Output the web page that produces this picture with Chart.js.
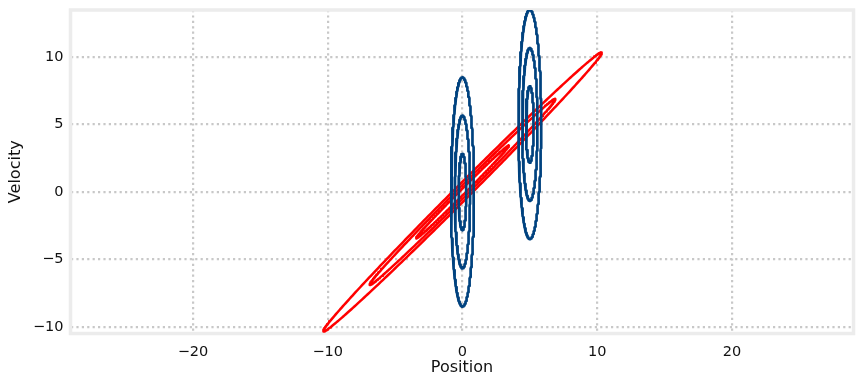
<!DOCTYPE html>
<html>
<head>
<meta charset="utf-8">
<script src="https://cdn.jsdelivr.net/npm/chart.js@4.4.0/dist/chart.umd.min.js"></script>
<style>
  html, body { margin: 0; padding: 0; background: #fff; }
</style>
</head>
<body>
<canvas id="chart" width="863" height="384"></canvas>
<script>
// Covariance ellipses (1, 2 and 3 sigma)
const sigmas = [1, 2, 3]

// Blue: uncorrelated, same shape at two means
const blueCenters = [[0, 0], [5, 5]]
const blueStd = [0.283, 2.83]      // std of position, std of velocity

// Red: strongly correlated, tilted 45 degrees
const redCenter = [0, 0]
const redStd = [4.87, 0.18]        // std along major / minor axis
const redAngle = 45

const xTicks = [-20, -10, 0, 10, 20]
const yTicks = [-10, -5, 0, 5, 10]

const blue = '#00427f'
const red = '#ff0000'

// Outline of one ellipse as a closed list of points
function ellipse(center, a, b, angleDeg) {
  let pts = []
  let th = angleDeg * Math.PI / 180
  for (let i = 0; i <= 360; i++) {
    let t = i / 360 * 2 * Math.PI
    let ex = a * Math.cos(t)
    let ey = b * Math.sin(t)
    pts.push({
      x: center[0] + ex * Math.cos(th) - ey * Math.sin(th),
      y: center[1] + ex * Math.sin(th) + ey * Math.cos(th)
    })
  }
  return pts
}

let datasets = []
blueCenters.forEach(c => {
  sigmas.forEach(s => {
    datasets.push({ data: ellipse(c, s * blueStd[0], s * blueStd[1], 0), borderColor: blue, borderWidth: 2.7 })
  })
})
sigmas.forEach(s => {
  datasets.push({ data: ellipse(redCenter, s * redStd[0], s * redStd[1], redAngle), borderColor: red, borderWidth: 2.5 })
})
datasets.forEach(d => {
  d.showLine = true
  d.pointRadius = 0
  d.fill = false
  d.tension = 0
  d.borderJoinStyle = 'round'
  d.borderCapStyle = 'round'
})

const minus = v => String(v).replace('-', '\u2212')

// Light gray frame around the plot area
const frame = {
  id: 'frame',
  beforeDatasetsDraw(chart) {
    let a = chart.chartArea
    let ctx = chart.ctx
    ctx.save()
    ctx.strokeStyle = '#ececec'
    ctx.lineWidth = 3.5
    ctx.strokeRect(a.left, a.top, a.right - a.left, a.bottom - a.top)
    ctx.restore()
  }
}

const tickFont = { family: 'DejaVu Sans', size: 14.5 }
const titleFont = { family: 'DejaVu Sans', size: 16 }

new Chart('chart', {
  type: 'scatter',
  data: { datasets: datasets },
  options: {
    responsive: false,
    animation: false,
    layout: { padding: { left: 0, top: 10, right: 9.5, bottom: 0 } },
    plugins: { legend: { display: false }, tooltip: { enabled: false } },
    scales: {
      x: {
        type: 'linear',
        min: -29.09,
        max: 29.02,
        afterBuildTicks: s => { s.ticks = xTicks.map(v => ({ value: v })) },
        afterFit: s => {
          s.height = 50.5
          s.paddingLeft = 0
          s.paddingRight = 0
        },
        ticks: { font: tickFont, color: '#111', padding: 10, callback: minus, maxRotation: 0 },
        grid: { color: '#c8c8c8', lineWidth: 2.2, drawTicks: false },
        border: { display: false, dash: [2.2, 3.2] },
        title: { display: true, text: 'Position', font: titleFont, color: '#111', padding: { top: 0, bottom: 7 } }
      },
      y: {
        type: 'linear',
        min: -10.48,
        max: 13.48,
        afterBuildTicks: s => { s.ticks = yTicks.map(v => ({ value: v })) },
        afterFit: s => {
          s.width = 70.5
          s.paddingTop = 0
          s.paddingBottom = 0
        },
        ticks: { font: tickFont, color: '#111', padding: 7, callback: minus },
        grid: { color: '#c8c8c8', lineWidth: 2.2, drawTicks: false },
        border: { display: false, dash: [2.2, 3.2] },
        title: { display: true, text: 'Velocity', font: titleFont, color: '#111', padding: { top: 6, bottom: 0 } }
      }
    }
  },
  plugins: [frame]
})
</script>
</body>
</html>
